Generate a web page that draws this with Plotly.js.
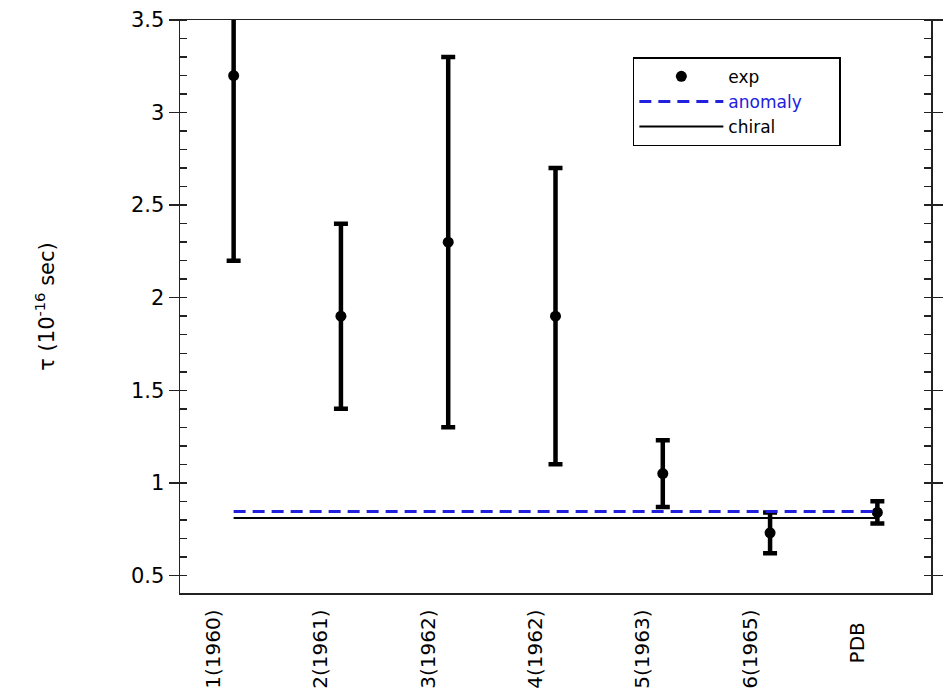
<!DOCTYPE html>
<html>
<head>
<meta charset="utf-8">
<script src="https://cdn.plot.ly/plotly-3.0.1.min.js"></script>
<style>
  html, body { margin: 0; padding: 0; background: #fff; }
  #chart { width: 944px; height: 696px; }
</style>
</head>
<body>
<div id="chart"></div>
<script>
// Measurements of the neutral pion lifetime, in units of 1e-16 s
const experiments = ["1(1960)", "2(1961)", "3(1962)", "4(1962)", "5(1963)", "6(1965)", "PDB"];
const tickLabels = ["1(1960)", "2(1961)", "3(1962)", "4(1962)", "5(1963)", "6(1965)", "PDB\u00a0\u00a0"];
const lifetime = [3.2, 1.9, 2.3, 1.9, 1.05, 0.73, 0.84];
const lifetimeErr = [1.0, 0.5, 1.0, 0.8, 0.18, 0.11, 0.06];

// Theory predictions
const anomalyValue = 0.845;
const chiralValue = 0.81;

const font = "DejaVu Sans, Liberation Sans, Arial, sans-serif";
const axisColor = "#222";
// trailing padding widens the legend box
const pad = "\u00a0".repeat(6);

const expTrace = {
  type: "scatter",
  mode: "markers",
  name: "exp",
  x: experiments,
  y: lifetime,
  marker: { color: "black", size: 11 },
  error_y: {
    type: "data",
    array: lifetimeErr,
    visible: true,
    color: "black",
    thickness: 4.5,
    width: 7
  }
};

const first = experiments[0];
const last = experiments[experiments.length - 1];

const anomalyTrace = {
  type: "scatter",
  mode: "lines",
  name: '<span style="color:#2020dd">anomaly</span>' + pad,
  x: [first, last],
  y: [anomalyValue, anomalyValue],
  line: { color: "#2020dd", width: 3, dash: "12px,7px" }
};

const chiralTrace = {
  type: "scatter",
  mode: "lines",
  name: "chiral",
  x: [first, last],
  y: [chiralValue, chiralValue],
  line: { color: "black", width: 2 }
};

const layout = {
  width: 944,
  height: 696,
  margin: { l: 180, r: 13, t: 20, b: 103 },
  paper_bgcolor: "white",
  plot_bgcolor: "white",
  font: { family: font, color: "black" },
  showlegend: true,
  legend: {
    x: 0.603,
    y: 0.935,
    xanchor: "left",
    yanchor: "top",
    bgcolor: "white",
    bordercolor: "black",
    borderwidth: 1.5,
    font: { family: font, size: 17, color: "black" },
    itemwidth: 84,
    tracegroupgap: 0
  },
  xaxis: {
    type: "category",
    categoryorder: "array",
    categoryarray: experiments,
    tickmode: "array",
    tickvals: experiments,
    ticktext: tickLabels,
    range: [-0.5, 6.5],
    tickangle: -90,
    ticklabelshift: -20,
    ticklabelstandoff: 7,
    ticks: "",
    showline: true,
    mirror: true,
    linecolor: axisColor,
    linewidth: 1.5,
    showgrid: false,
    zeroline: false,
    tickfont: { family: font, size: 20, color: "black" }
  },
  yaxis: {
    range: [0.405, 3.5],
    tick0: 0,
    dtick: 0.5,
    ticks: "outside",
    ticklen: 10,
    tickwidth: 1.5,
    tickcolor: axisColor,
    minor: {
      dtick: 0.1,
      ticks: "inside",
      ticklen: 7,
      tickwidth: 1.5,
      tickcolor: axisColor,
      showgrid: false
    },
    showline: true,
    mirror: "ticks",
    linecolor: axisColor,
    linewidth: 1.5,
    showgrid: false,
    zeroline: false,
    tickfont: { family: font, size: 21, color: "black" },
    title: {
      text: "\u03c4 (10<sup>-16</sup> sec)",
      font: { family: font, size: 21, color: "black" },
      standoff: 70
    },
    automargin: false
  }
};

Plotly.newPlot("chart", [expTrace, anomalyTrace, chiralTrace], layout, { displayModeBar: false, staticPlot: true });
</script>
</body>
</html>
